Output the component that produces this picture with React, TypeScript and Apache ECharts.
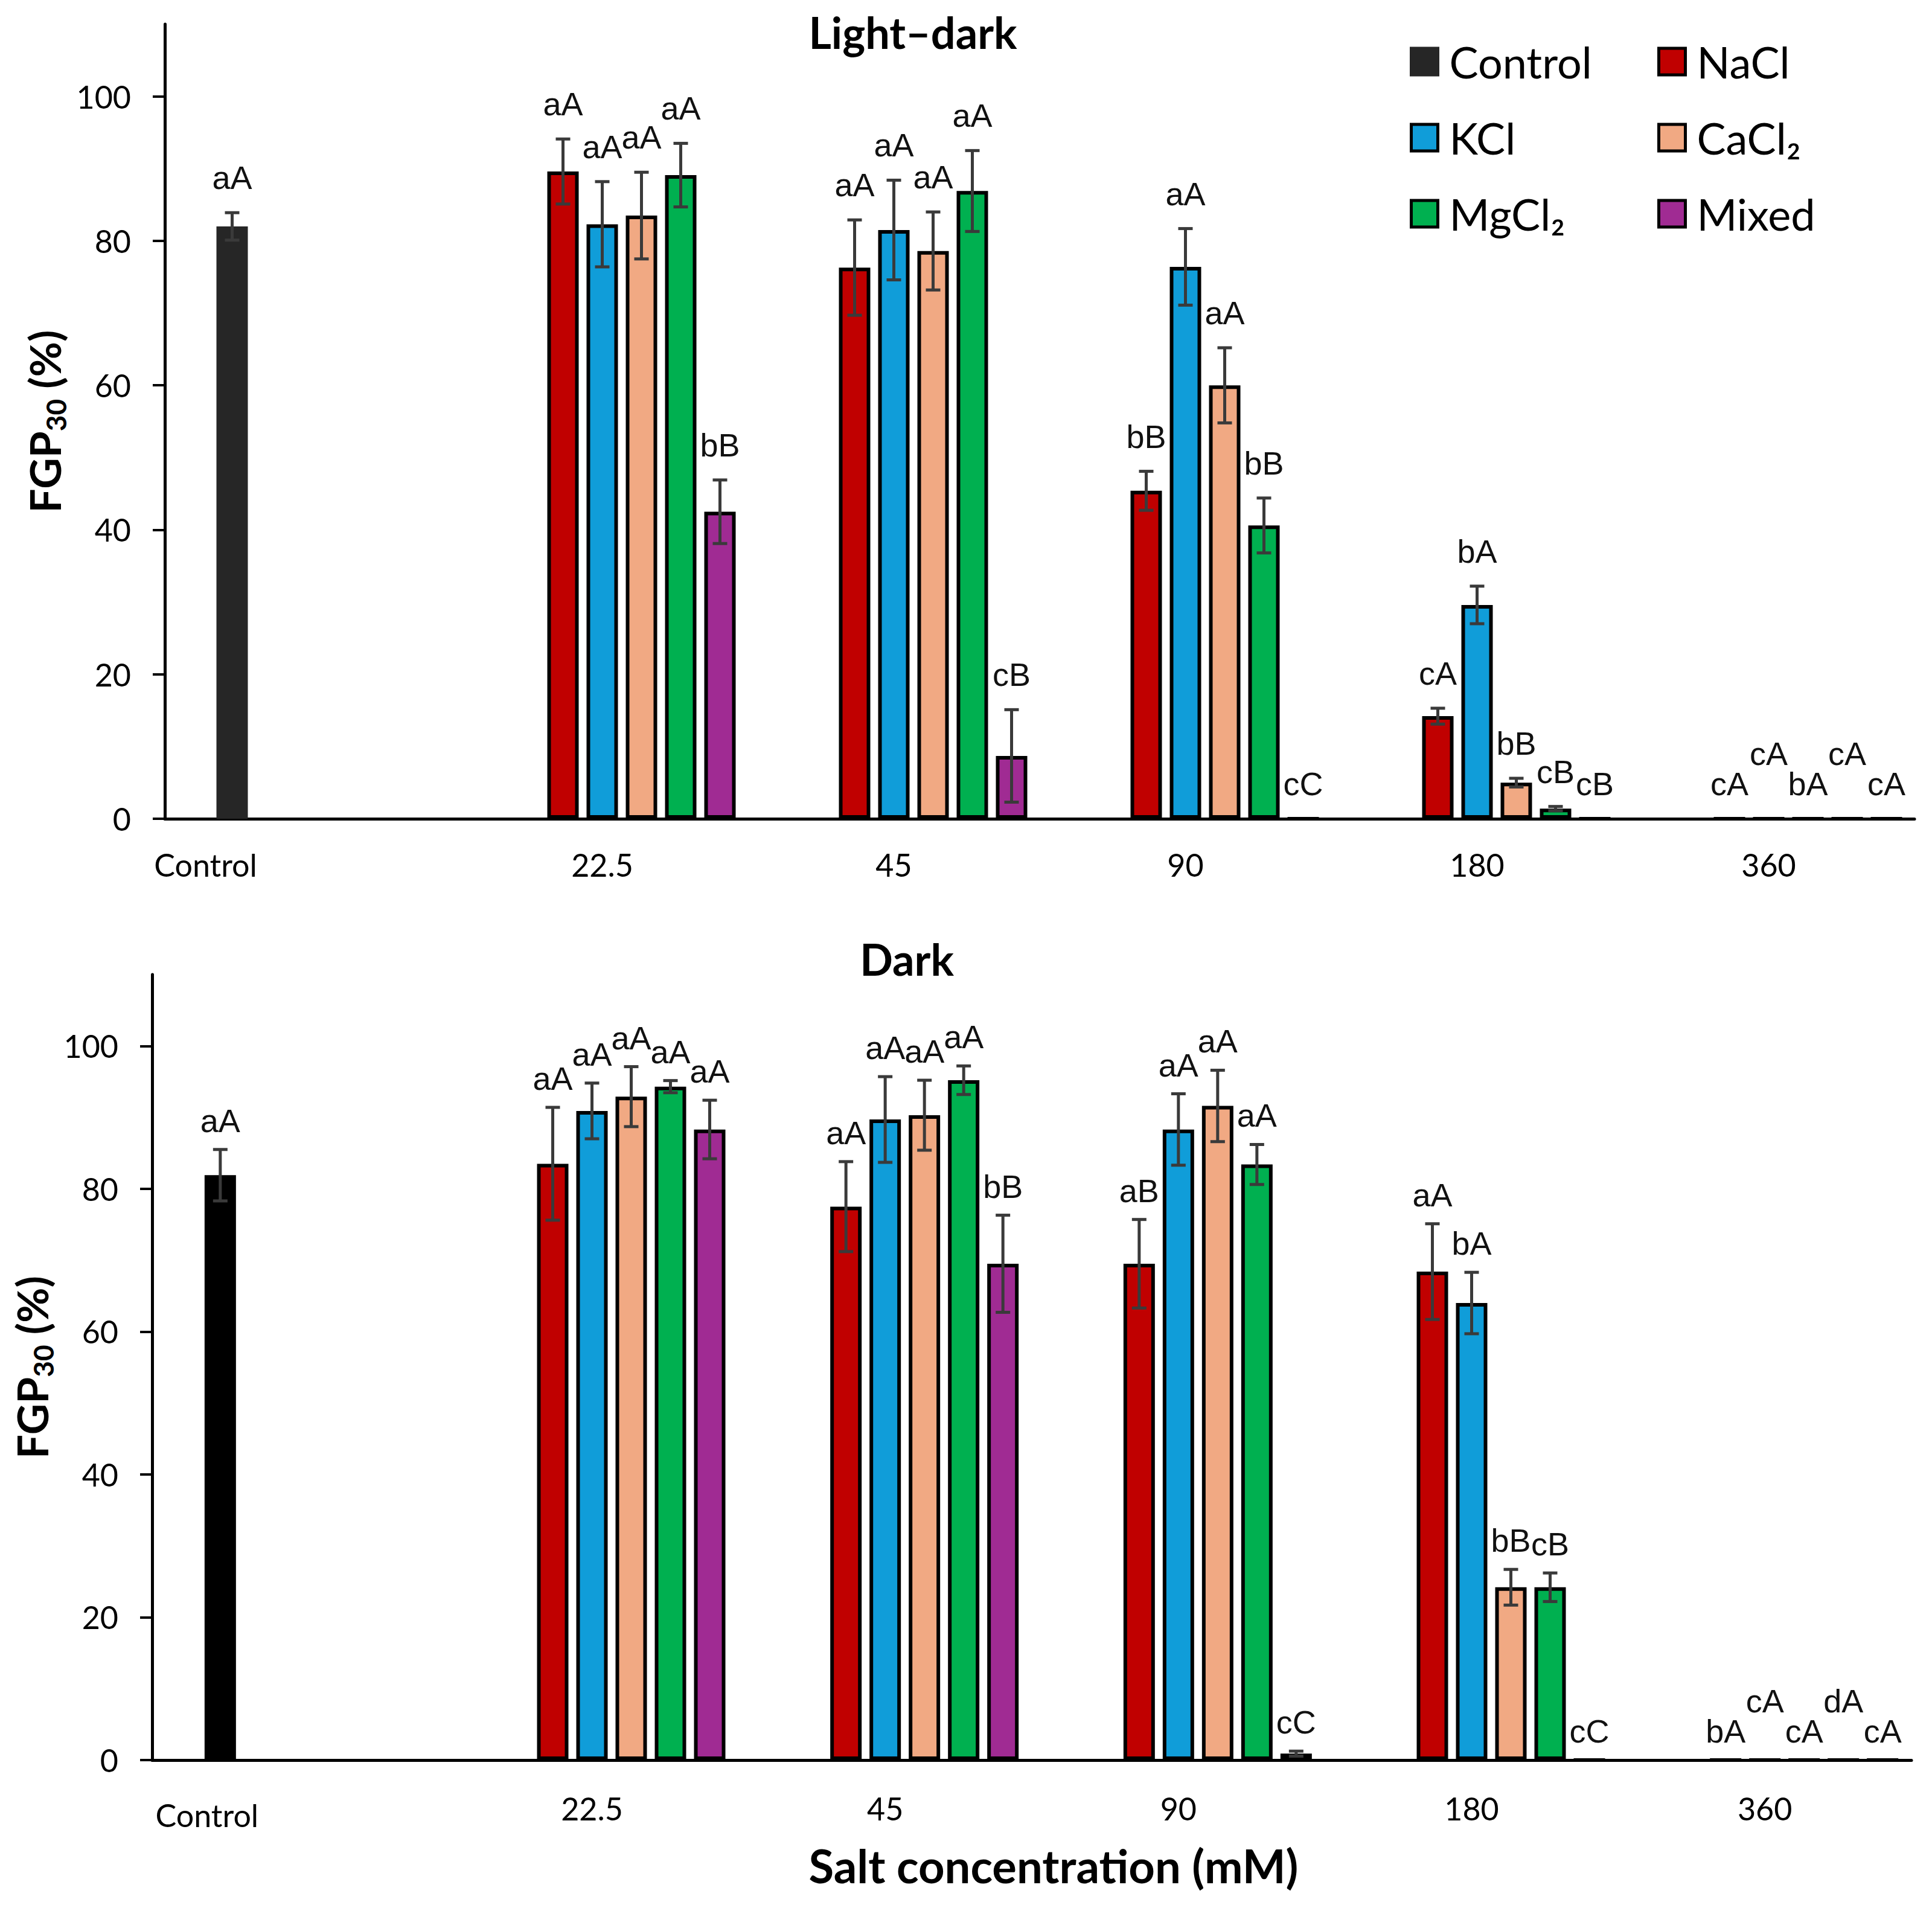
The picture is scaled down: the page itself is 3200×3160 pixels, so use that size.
import React, { useEffect, useRef } from "react";
import * as echarts from "echarts";

// ---------- data ----------
const categories = ["Control", "22.5", "45", "90", "180", "360"];
const saltNames = ["Control", "NaCl", "KCl", "CaCl₂", "MgCl₂", "Mixed"];
const yTicks = [0, 20, 40, 60, 80, 100];

// Light–dark panel: means
const ldControl = [82.0, null, null, null, null, null];
const ldNaCl = [null, 89.6, 76.3, 45.4, 14.2, 0];
const ldKCl = [null, 82.3, 81.5, 76.4, 29.6, 0];
const ldCaCl2 = [null, 83.5, 78.6, 60.0, 5.0, 0];
const ldMgCl2 = [null, 89.1, 86.9, 40.6, 1.4, 0];
const ldMixed = [null, 42.5, 8.7, 0, 0, 0];
// Light–dark panel: error (±)
const ldControlSd = [1.9, null, null, null, null, null];
const ldNaClSd = [null, 4.5, 6.6, 2.7, 1.1, 0];
const ldKClSd = [null, 5.9, 6.9, 5.3, 2.6, 0];
const ldCaCl2Sd = [null, 6.0, 5.4, 5.2, 0.6, 0];
const ldMgCl2Sd = [null, 4.4, 5.6, 3.8, 0.3, 0];
const ldMixedSd = [null, 4.4, 6.4, 0, 0, 0];
// Light–dark panel: letters
const ldControlLbl = ["aA", null, null, null, null, null];
const ldNaClLbl = [null, "aA", "aA", "bB", "cA", "cA"];
const ldKClLbl = [null, "aA", "aA", "aA", "bA", "cA"];
const ldCaCl2Lbl = [null, "aA", "aA", "aA", "bB", "bA"];
const ldMgCl2Lbl = [null, "aA", "aA", "bB", "cB", "cA"];
const ldMixedLbl = [null, "bB", "cB", "cC", "cB", "cA"];

// Dark panel: means
const dkControl = [81.9, null, null, null, null, null];
const dkNaCl = [null, 83.5, 77.5, 69.5, 68.4, 0];
const dkKCl = [null, 90.9, 89.7, 88.3, 64.0, 0];
const dkCaCl2 = [null, 92.9, 90.3, 91.6, 24.2, 0];
const dkMgCl2 = [null, 94.3, 95.2, 83.4, 24.2, 0];
const dkMixed = [null, 88.3, 69.5, 0.9, 0, 0];
// Dark panel: error (±)
const dkControlSd = [3.6, null, null, null, null, null];
const dkNaClSd = [null, 7.9, 6.3, 6.2, 6.7, 0];
const dkKClSd = [null, 3.9, 6.0, 5.0, 4.3, 0];
const dkCaCl2Sd = [null, 4.2, 4.9, 5.0, 2.5, 0];
const dkMgCl2Sd = [null, 0.85, 2.0, 2.8, 2.0, 0];
const dkMixedSd = [null, 4.1, 6.8, 0.35, 0, 0];
// Dark panel: letters
const dkControlLbl = ["aA", null, null, null, null, null];
const dkNaClLbl = [null, "aA", "aA", "aB", "aA", "bA"];
const dkKClLbl = [null, "aA", "aA", "aA", "bA", "cA"];
const dkCaCl2Lbl = [null, "aA", "aA", "aA", "bB", "cA"];
const dkMgCl2Lbl = [null, "aA", "aA", "aA", "cB", "dA"];
const dkMixedLbl = [null, "aA", "bB", "cC", "cC", "cA"];

// ---------- styling ----------
const saltColors = ["#262626", "#C00000", "#109DD9", "#F1A983", "#00B050", "#A02B93"];
const BAR_W = 52;
const BAR_GAP = 0.25;
const SLOT = BAR_W * (1 + BAR_GAP);
const CENTER_SLOT = 3; // 7 slots (one empty pad slot first)
const LABEL_RAISE = 50;
const FONT_TICK = "Lato";
const FONT_LETTER = "Liberation Sans";

type Item = { c: number; s: number; m: number; sd: number; lbl: string; raise: boolean };

function buildItems(means: any[][], sds: any[][], lbls: any[][]): Item[] {
  const items: Item[] = [];
  for (let c = 0; c < categories.length; c++) {
    let prevZero = false;
    let prevRaised = false;
    for (let s = 0; s < saltNames.length; s++) {
      const m = means[s][c];
      if (m == null) {
        prevZero = false;
        prevRaised = false;
        continue;
      }
      const sd = sds[s][c] || 0;
      const isZero = m === 0;
      const raise = isZero && prevZero && !prevRaised;
      items.push({ c, s, m, sd, lbl: lbls[s][c] || "", raise });
      prevZero = isZero;
      prevRaised = raise;
    }
  }
  return items;
}

function panelSeries(g: number, means: any[][], sds: any[][], lbls: any[][], ctrlColor: string, labelGap: number) {
  const series: any[] = [];
  series.push({
    type: "bar",
    name: "_pad",
    xAxisIndex: g,
    yAxisIndex: g,
    data: categories.map(() => "-"),
    barWidth: BAR_W,
    barGap: `${BAR_GAP * 100}%`,
    silent: true,
  });
  saltNames.forEach((name, s) => {
    const col = s === 0 ? ctrlColor : saltColors[s];
    series.push({
      type: "bar",
      name,
      xAxisIndex: g,
      yAxisIndex: g,
      data: means[s].map((v) => (v == null ? "-" : v)),
      barWidth: BAR_W,
      barGap: `${BAR_GAP * 100}%`,
      itemStyle: { color: col, borderColor: s === 0 ? col : "#000", borderWidth: 6 },
      z: 2,
    });
  });
  const items = buildItems(means, sds, lbls);
  series.push({
    type: "custom",
    name: "_err" + g,
    xAxisIndex: g,
    yAxisIndex: g,
    z: 5,
    clip: false,
    silent: true,
    encode: { x: 0, y: 1 },
    data: items.map((it) => [it.c, it.m + it.sd]),
    renderItem: (params: any, api: any) => {
      const it = items[params.dataIndex];
      const base = api.coord([it.c, 0]);
      const x = base[0] + (it.s + 1 - CENTER_SLOT) * SLOT;
      const yTop = api.coord([it.c, it.m + it.sd])[1];
      const yBot = api.coord([it.c, Math.max(it.m - it.sd, 0)])[1];
      const children: any[] = [];
      const ls = { stroke: "#3a3a3a", lineWidth: 5 };
      if (it.sd > 0) {
        children.push({ type: "line", shape: { x1: x, y1: yTop, x2: x, y2: yBot }, style: ls });
        children.push({ type: "line", shape: { x1: x - 12, y1: yTop, x2: x + 12, y2: yTop }, style: ls });
        children.push({ type: "line", shape: { x1: x - 12, y1: yBot, x2: x + 12, y2: yBot }, style: ls });
      }
      if (it.lbl) {
        children.push({
          type: "text",
          x,
          y: yTop - labelGap - (it.raise ? LABEL_RAISE : 0),
          style: {
            text: it.lbl,
            align: "center",
            verticalAlign: "middle",
            fontSize: 54,
            fontFamily: FONT_LETTER,
            fill: "#111",
          },
        });
      }
      return { type: "group", children };
    },
  });
  return series;
}

const yName = "{b|FGP}{s|30}{b| (%)}";
const yNameRich = {
  b: { fontSize: 71, fontWeight: "bold", fontFamily: FONT_TICK, lineHeight: 84, color: "#000" },
  s: { fontSize: 46, fontWeight: "bold", fontFamily: FONT_TICK, lineHeight: 46, verticalAlign: "bottom", color: "#000" },
};

function makeYAxis(g: number, nameGap: number) {
  return {
    type: "value",
    gridIndex: g,
    min: 0,
    max: 110,
    interval: 20,
    name: yName,
    nameLocation: "middle",
    nameRotate: 90,
    nameGap,
    nameTextStyle: { rich: yNameRich },
    axisLine: { show: true, lineStyle: { color: "#000", width: 5 } },
    axisTick: { show: true, length: 20, inside: false, lineStyle: { color: "#000", width: 4 }, customValues: yTicks },
    axisLabel: { margin: 56, fontSize: 52, fontFamily: FONT_TICK, color: "#000", customValues: yTicks },
    splitLine: { show: false },
  };
}

function makeXAxis(g: number, margin: number, ctrlPad: number[], extra: any = {}) {
  return {
    type: "category",
    gridIndex: g,
    data: categories,
    axisLine: { show: true, onZero: false, lineStyle: { color: "#000", width: 5 } },
    axisTick: { show: false },
    axisLabel: {
      interval: 0,
      margin,
      fontSize: 52,
      fontFamily: FONT_TICK,
      color: "#000",
      formatter: (v: string) => (v === "Control" ? "{c|Control}" : v),
      rich: { c: { padding: ctrlPad, fontSize: 52, fontFamily: FONT_TICK, color: "#000" } },
    },
    splitLine: { show: false },
    ...extra,
  };
}

export default function App() {
  const ref = useRef<HTMLDivElement>(null);
  useEffect(() => {
    document.body.style.margin = "0";
    document.body.style.overflow = "hidden";
    const chart = echarts.init(ref.current!, null, { renderer: "svg" });
    const ldMeans = [ldControl, ldNaCl, ldKCl, ldCaCl2, ldMgCl2, ldMixed];
    const ldSds = [ldControlSd, ldNaClSd, ldKClSd, ldCaCl2Sd, ldMgCl2Sd, ldMixedSd];
    const ldLbls = [ldControlLbl, ldNaClLbl, ldKClLbl, ldCaCl2Lbl, ldMgCl2Lbl, ldMixedLbl];
    const dkMeans = [dkControl, dkNaCl, dkKCl, dkCaCl2, dkMgCl2, dkMixed];
    const dkSds = [dkControlSd, dkNaClSd, dkKClSd, dkCaCl2Sd, dkMgCl2Sd, dkMixedSd];
    const dkLbls = [dkControlLbl, dkNaClLbl, dkKClLbl, dkCaCl2Lbl, dkMgCl2Lbl, dkMixedLbl];

    const legendCommon = {
      orient: "vertical",
      top: 60,
      padding: 0,
      icon: "rect",
      itemWidth: 44,
      itemHeight: 44,
      itemGap: 42,
      selectedMode: false,
      itemStyle: { borderWidth: 5 },
      textStyle: { fontSize: 72, fontFamily: FONT_TICK, color: "#000", lineHeight: 84, padding: [0, 0, 0, 14] },
    };

    chart.setOption({
      animation: false,
      backgroundColor: "#fff",
      grid: [
        { left: 273, right: 29, top: 40, height: 1316, containLabel: false },
        { left: 252, right: 34, top: 1614, height: 1301, containLabel: false },
      ],
      xAxis: [
        makeXAxis(0, 50, [0, 348, 0, 0]),
        makeXAxis(1, 54, [11, 304, 0, 0], {
          name: "Salt concentration (mM)",
          nameLocation: "middle",
          nameGap: 136,
          nameTextStyle: { fontSize: 76, fontWeight: "bold", fontFamily: FONT_TICK, color: "#000", padding: [0, 0, 0, 72] },
        }),
      ],
      yAxis: [makeYAxis(0, 144), makeYAxis(1, 139)],
      legend: [
        { ...legendCommon, left: 2335, data: ["Control", "KCl", "MgCl₂"] },
        { ...legendCommon, left: 2745, data: ["NaCl", "CaCl₂", "Mixed"] },
      ],
      graphic: [
        {
          type: "text",
          x: 1512,
          y: 53,
          style: { text: "Light–dark", align: "center", verticalAlign: "middle", fontSize: 72, fontWeight: "bold", fontFamily: FONT_TICK, fill: "#000" },
        },
        {
          type: "text",
          x: 1502,
          y: 1588,
          style: { text: "Dark", align: "center", verticalAlign: "middle", fontSize: 72, fontWeight: "bold", fontFamily: FONT_TICK, fill: "#000" },
        },
      ],
      series: [
        ...panelSeries(0, ldMeans, ldSds, ldLbls, "#262626", 58),
        ...panelSeries(1, dkMeans, dkSds, dkLbls, "#000000", 48),
      ],
    });
    return () => chart.dispose();
  }, []);
  return <div ref={ref} style={{ width: 3200, height: 3160 }} />;
}
